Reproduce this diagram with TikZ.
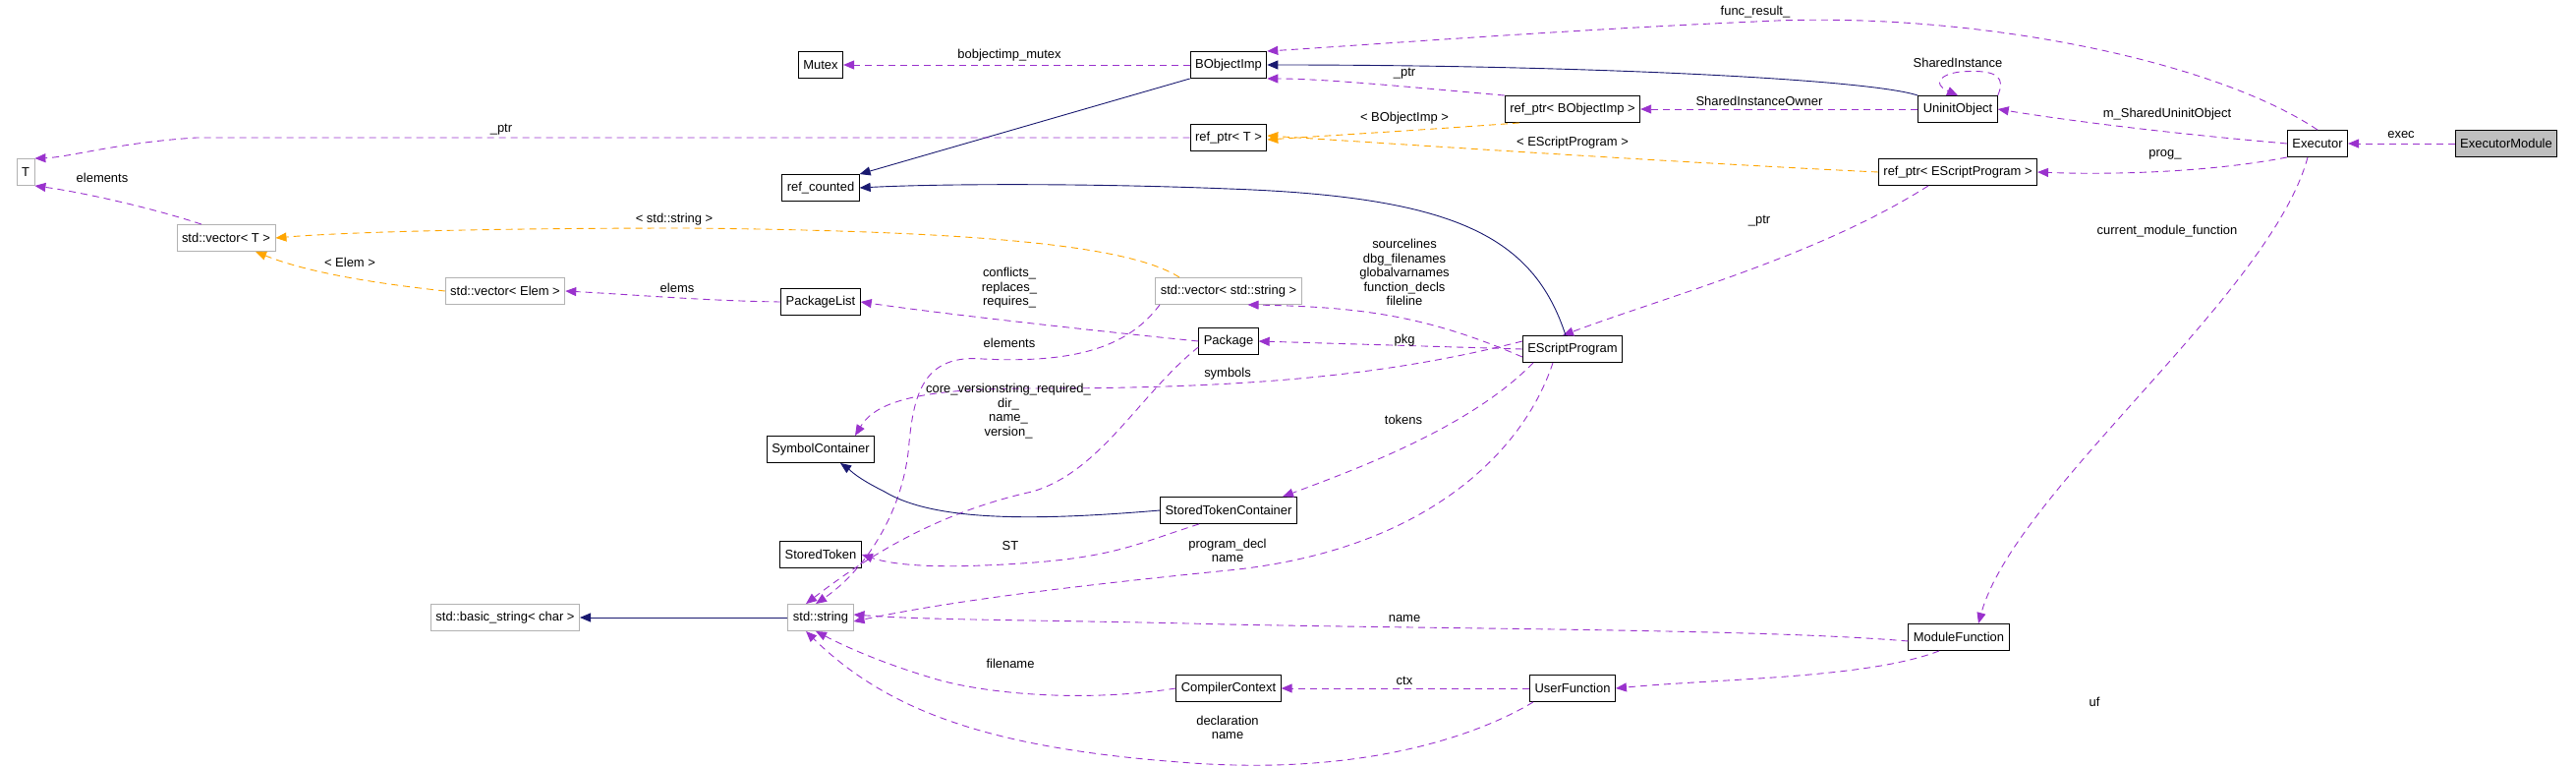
\documentclass[tikz,border=0pt]{standalone}
\usepackage{fontspec}
\setmainfont{Liberation Sans}
\usetikzlibrary{arrows.meta}
\definecolor{pur}{HTML}{9A32CD}
\definecolor{org}{HTML}{FFA500}
\definecolor{nav}{HTML}{191970}
\begin{document}
\begin{tikzpicture}[x=1bp,y=-1bp,
  every node/.style={font=\fontsize{13}{14.5}\selectfont},
  cls/.style={draw=black,line width=0.9bp,minimum height=27bp,inner xsep=5bp,inner ysep=0pt},
  ext/.style={cls,draw=black!30},
  lbl/.style={inner sep=1bp,align=center},
  use/.style={draw=pur,line width=0.9bp,dash pattern=on 7bp off 5bp,-{Triangle[length=11bp,width=9bp]}},
  tmpl/.style={use,draw=org},
  inh/.style={draw=nav,line width=0.9bp,-{Triangle[length=11bp,width=9bp]}}]
\useasboundingbox (0,0) rectangle (2621,780);
% nodes
\node[ext] (T) at (26,175) {T};
\node[ext] (vT) at (230,242) {std::vector< T >};
\node[ext] (vE) at (514,296) {std::vector< Elem >};
\node[cls] (PL) at (835,307) {PackageList};
\node[cls] (Mu) at (835,66) {Mutex};
\node[cls] (RC) at (835,191) {ref\_counted};
\node[cls] (BO) at (1250,66) {BObjectImp};
\node[cls] (RT) at (1250,140) {ref\_ptr< T >};
\node[ext] (vS) at (1250,296) {std::vector< std::string >};
\node[cls] (Pk) at (1250,347) {Package};
\node[cls] (RB) at (1600,111) {ref\_ptr< BObjectImp >};
\node[cls] (UO) at (1992,111) {UninitObject};
\node[cls] (Ex) at (2358,146) {Executor};
\node[cls,fill=black!25] (EM) at (2550,146) {ExecutorModule};
\node[cls] (RE) at (1992,175) {ref\_ptr< EScriptProgram >};
\node[cls] (EP) at (1600,355) {EScriptProgram};
\node[cls] (SC) at (835,457) {SymbolContainer};
\node[cls] (STC) at (1250,519) {StoredTokenContainer};
\node[cls] (ST) at (835,564) {StoredToken};
\node[ext] (BS) at (514,628) {std::basic\_string< char >};
\node[ext] (SS) at (835,628) {std::string};
\node[cls] (CC) at (1250,700) {CompilerContext};
\node[cls] (UF) at (1600,700) {UserFunction};
\node[cls] (MF) at (1993,648) {ModuleFunction};
% edges
\draw[use] (BO.west) -- (Mu.east);
\draw[use] (Ex.north) .. controls (2250,60) and (2000,10) .. (1786,22) .. controls (1600,30) and (1400,45) .. (BO.north east);
\draw[inh] (UO.north west) .. controls (1900,80) and (1600,66) .. (BO.east);
\draw[inh] (BO.south west) -- (RC.north east);
\draw[use] (RB.north west) .. controls (1450,90) and (1350,80) .. (BO.south east);
\draw[use] (UO.west) -- (RB.east);
\draw[use] (UO.north east) .. controls (2040,80) and (2035,70) .. (1995,73) .. controls (1975,75) and (1965,85) .. (UO.north);
\draw[tmpl] ([xshift=15bp]RB.south west) .. controls (1450,132) and (1350,138) .. ([yshift=-2bp]RT.east);
\draw[tmpl] (RE.west) .. controls (1700,165) and (1400,145) .. ([yshift=2bp]RT.east);
\draw[use] (RT.west) -- (200,140) .. controls (120,145) and (70,160) .. (T.north east);
\draw[use] (Ex.west) .. controls (2200,135) and (2100,122) .. (UO.east);
\draw[use] (EM.west) -- (Ex.east);
\draw[use] (Ex.south west) .. controls (2250,175) and (2150,178) .. (RE.east);
\draw[use] ([xshift=-30bp]RE.south) .. controls (1850,260) and (1700,300) .. ([xshift=-10bp]EP.north);
\draw[inh] ([xshift=-7bp]EP.north) .. controls (1560,240) and (1480,200) .. (1250,192) .. controls (1100,186) and (950,187) .. (RC.east);
\draw[use] ([xshift=-25bp]vT.north) .. controls (150,210) and (80,195) .. (T.south east);
\draw[tmpl] ([xshift=-50bp]vS.north) .. controls (1150,250) and (1000,235) .. (700,232) .. controls (500,232) and (350,236) .. (vT.east);
\draw[tmpl] (vE.west) .. controls (400,290) and (320,280) .. ([xshift=30bp]vT.south);
\draw[use] (PL.west) .. controls (720,306) and (650,300) .. (vE.east);
\draw[use] (Pk.west) .. controls (1100,335) and (950,318) .. (PL.east);
\draw[use] ([yshift=-8bp]EP.west) .. controls (1450,320) and (1380,312) .. ([xshift=-55bp]vS.south east);
\draw[use] (EP.west) -- (Pk.east);
\draw[use] ([xshift=-70bp]vS.south) .. controls (1150,350) and (1100,370) .. (1000,365) .. controls (940,360) and (930,400) .. (925,450) .. controls (920,520) and (880,580) .. ([xshift=-5bp]SS.north);
\draw[use] ([yshift=8bp]Pk.south west) .. controls (1160,400) and (1120,480) .. (1050,500) .. controls (960,520) and (890,560) .. ([xshift=-15bp]SS.north);
\draw[use] ([yshift=8bp]EP.west) .. controls (1400,385) and (1250,395) .. (1050,395) .. controls (930,395) and (890,410) .. ([xshift=35bp]SC.north);
\draw[inh] (STC.west) .. controls (1050,530) and (950,530) .. (900,500) .. controls (870,485) and (865,478) .. ([xshift=20bp]SC.south);
\draw[use] ([xshift=-40bp]EP.south) .. controls (1500,430) and (1400,470) .. ([xshift=55bp]STC.north);
\draw[use] ([xshift=-30bp]STC.south) .. controls (1150,555) and (1130,570) .. (1000,575) .. controls (950,577) and (910,575) .. (ST.east);
\draw[use] ([xshift=-20bp]EP.south) .. controls (1550,460) and (1450,560) .. (1250,580) .. controls (1050,600) and (950,615) .. ([yshift=-4bp]SS.east);
\draw[inh] (SS.west) -- (BS.east);
\draw[use] ([yshift=-4bp]MF.west) .. controls (1800,640) and (1500,640) .. (1250,635) .. controls (1050,630) and (950,631) .. ([yshift=3bp]SS.east);
\draw[use] ([xshift=-40bp]UF.south) .. controls (1500,750) and (1380,790) .. (1200,775) .. controls (1000,760) and (900,720) .. ([xshift=-15bp]SS.south);
\draw[use] (CC.west) .. controls (1100,715) and (1000,705) .. (950,690) .. controls (900,675) and (865,660) .. ([xshift=-5bp]SS.south);
\draw[use] (UF.west) -- (CC.east);
\draw[use] ([xshift=-20bp]MF.south) .. controls (1900,690) and (1750,690) .. (UF.east);
\draw[use] ([xshift=-10bp]Ex.south) .. controls (2310,300) and (2050,500) .. ([xshift=20bp]MF.north);
% labels
\node[lbl] (l1) at (1027,56) {bobjectimp\_mutex};
\node[lbl] (l2) at (1786,12) {func\_result\_};
\node[lbl] (l3) at (1429,75) {\_ptr};
\node[lbl] (l4) at (1429,120) {< BObjectImp >};
\node[lbl] (l5) at (1600,145) {< EScriptProgram >};
\node[lbl] (l6) at (1992,64) {SharedInstance};
\node[lbl] (l7) at (1790,103) {SharedInstanceOwner};
\node[lbl] (l8) at (2205,116) {m\_SharedUninitObject};
\node[lbl] (l9) at (2443,137) {exec};
\node[lbl] (l10) at (2203,157) {prog\_};
\node[lbl] (l11) at (1790,225) {\_ptr};
\node[lbl] (l12) at (2205,235) {current\_module\_function};
\node[lbl] (l13) at (510,132) {\_ptr};
\node[lbl] (l14) at (104,181) {elements};
\node[lbl] (l15) at (686,223) {< std::string >};
\node[lbl] (l16) at (356,267) {< Elem >};
\node[lbl] (l17) at (689,293) {elems};
\node[lbl] (l18) at (1027,293) {conflicts\_\\replaces\_\\requires\_};
\node[lbl] (l19) at (1429,277) {sourcelines\\dbg\_filenames\\globalvarnames\\function\_decls\\fileline};
\node[lbl] (l20) at (1429,346) {pkg};
\node[lbl] (l21) at (1027,349) {elements};
\node[lbl] (l22) at (1249,380) {symbols};
\node[lbl] (l23) at (1026,418) {core\_versionstring\_required\_\\dir\_\\name\_\\version\_};
\node[lbl] (l24) at (1428,427) {tokens};
\node[lbl] (l25) at (1028,555) {ST};
\node[lbl] (l26) at (1249,560) {program\_decl\\name};
\node[lbl] (l27) at (1429,629) {name};
\node[lbl] (l28) at (1028,675) {filename};
\node[lbl] (l29) at (1429,692) {ctx};
\node[lbl] (l30) at (1249,740) {declaration\\name};
\node[lbl] (l31) at (2131,714) {uf};
\end{tikzpicture}
\end{document}
